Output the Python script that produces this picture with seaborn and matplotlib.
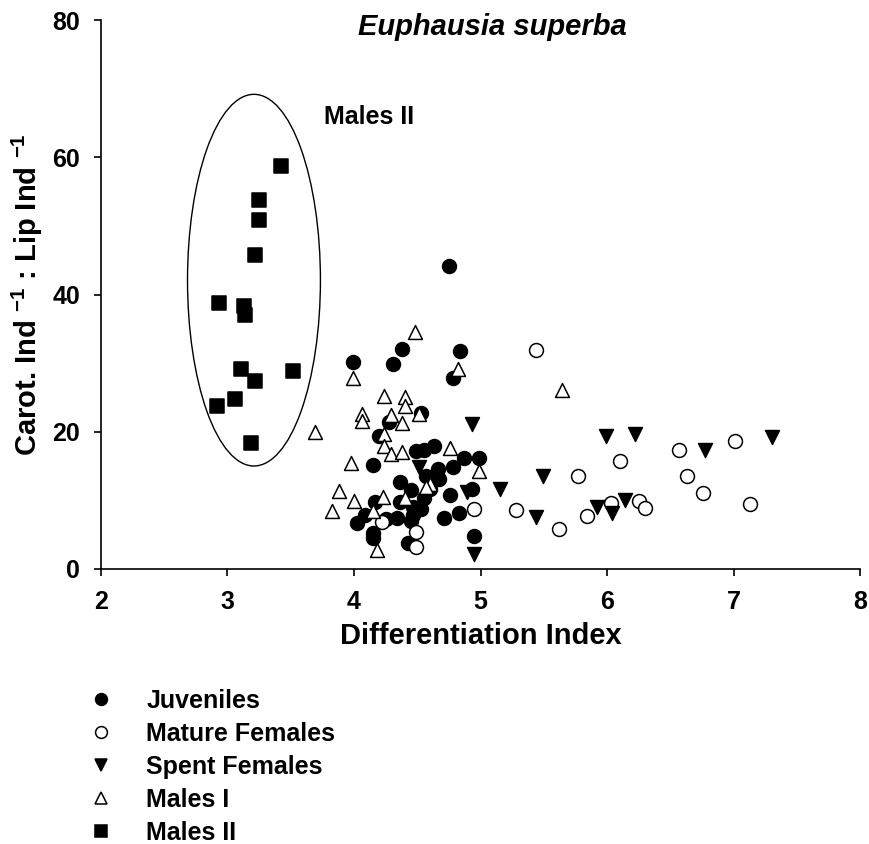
import pandas as pd
import matplotlib
matplotlib.use('Agg')
import matplotlib.pyplot as plt
import seaborn as sns
from matplotlib.patches import Ellipse
from matplotlib.lines import Line2D

# Data

juv_x = [4.75, 4.38, 4.31, 3.99, 4.84, 4.78, 4.53, 4.28, 4.20, 4.49, 4.55, 4.63, 4.15, 4.87,
         4.99, 4.78, 4.66, 4.57, 4.67, 4.36, 4.45, 4.60, 4.93, 4.76, 4.55, 4.36, 4.17, 4.47,
         4.53, 4.47, 4.83, 4.71, 4.34, 4.09, 4.02, 4.25, 4.45, 4.15, 4.15, 4.43, 4.95]
juv_y = [44.2, 32.0, 29.9, 30.1, 31.7, 27.8, 22.8, 21.4, 19.4, 17.2, 17.4, 17.9, 15.2, 16.1,
         16.2, 14.9, 14.6, 13.6, 13.1, 12.7, 11.5, 11.6, 11.6, 10.7, 10.4, 9.7, 9.8, 9.0,
         8.8, 7.8, 8.2, 7.4, 7.4, 7.8, 6.7, 7.3, 7.0, 5.3, 4.5, 3.8, 4.8]

mat_x = [5.44, 4.95, 5.28, 4.22, 4.49, 4.49, 6.10, 5.77, 6.57, 7.01, 6.63, 6.76, 7.13,
         5.62, 5.84, 6.03, 6.25, 6.30]
mat_y = [31.9, 8.8, 8.6, 6.8, 5.4, 3.2, 15.8, 13.6, 17.3, 18.7, 13.6, 11.0, 9.5,
         5.8, 7.7, 9.6, 9.9, 8.9]

spent_x = [4.93, 4.51, 4.89, 5.15, 5.49, 5.44, 4.95, 5.99, 6.22, 7.30, 6.77, 5.92, 6.04, 6.14]
spent_y = [21.1, 14.8, 11.2, 11.6, 13.5, 7.5, 2.2, 19.4, 19.7, 19.3, 17.3, 9.0, 8.2, 10.0]

m1_x = [4.48, 3.99, 4.82, 4.24, 4.40, 4.40, 4.06, 4.06, 4.29, 4.51, 4.38, 3.69, 4.24, 4.24,
        4.29, 4.38, 4.76, 3.98, 4.99, 4.60, 4.57, 3.88, 4.00, 4.23, 4.40, 3.83, 4.15, 4.18, 5.64]
m1_y = [34.6, 27.9, 29.2, 25.2, 25.1, 23.8, 22.6, 21.6, 22.5, 22.6, 21.2, 20.0, 19.6, 17.9,
        16.7, 17.0, 17.6, 15.4, 14.2, 12.4, 11.9, 11.4, 9.9, 10.5, 10.3, 8.5, 8.5, 2.8, 26.1]

m2_x = [3.42, 3.25, 3.25, 3.22, 2.93, 3.13, 3.14, 3.11, 3.52, 3.22, 3.06, 2.92, 3.19]
m2_y = [58.8, 53.8, 50.9, 45.7, 38.7, 38.4, 37.0, 29.1, 28.8, 27.4, 24.7, 23.8, 18.3]

groups = ['Juveniles', 'Mature Females', 'Spent Females', 'Males I', 'Males II']

df = pd.concat([
    pd.DataFrame({'x': juv_x, 'y': juv_y, 'group': 'Juveniles'}),
    pd.DataFrame({'x': mat_x, 'y': mat_y, 'group': 'Mature Females'}),
    pd.DataFrame({'x': spent_x, 'y': spent_y, 'group': 'Spent Females'}),
    pd.DataFrame({'x': m1_x, 'y': m1_y, 'group': 'Males I'}),
    pd.DataFrame({'x': m2_x, 'y': m2_y, 'group': 'Males II'}),
])

# marker, face colour for each group
styles = {
    'Juveniles': ('o', 'black'),
    'Mature Females': ('o', 'white'),
    'Spent Females': ('v', 'black'),
    'Males I': ('^', 'white'),
    'Males II': ('s', 'black'),
}

#############################################

sns.set_style('ticks')
plt.rcParams['font.family'] = ['Liberation Sans', 'DejaVu Sans']
plt.rcParams['font.weight'] = 'bold'
plt.rcParams['text.color'] = 'black'
plt.rcParams['axes.labelcolor'] = 'black'
plt.rcParams['xtick.color'] = 'black'
plt.rcParams['ytick.color'] = 'black'
plt.rcParams['mathtext.fontset'] = 'custom'
plt.rcParams['mathtext.rm'] = 'Liberation Sans:bold'
plt.rcParams['mathtext.bf'] = 'Liberation Sans:bold'

fig = plt.figure(figsize=(8.69, 8.44), dpi=100)
ax = fig.add_axes([0.116, 0.326, 0.874, 0.650])

for g in groups:
    m, fc = styles[g]
    sub = df[df['group'] == g]
    sns.scatterplot(data=sub, x='x', y='y', marker=m, color=fc, edgecolor='black',
                    linewidth=1.1, s=100, ax=ax, legend=False, zorder=3)

# ellipse around Males II
ax.add_patch(Ellipse((3.21, 42.1), 1.05, 54.2, fill=False, edgecolor='black', lw=1))
ax.text(3.76, 65.9, 'Males II', fontsize=18, fontweight='bold', va='center', ha='left')
ax.text(5.09, 79.0, 'Euphausia superba', fontsize=21, fontweight='bold', style='italic',
        ha='center', va='center')

ax.set_xlim(2, 8)
ax.set_ylim(0, 80)
ax.set_xticks([2, 3, 4, 5, 6, 7, 8])
ax.set_yticks([0, 20, 40, 60, 80])
ax.tick_params(axis='both', labelsize=18, length=5, width=1.2, direction='out', color='black',
               labelcolor='black')
ax.tick_params(axis='y', pad=10)
ax.tick_params(axis='x', pad=10)
for lab in ax.get_xticklabels() + ax.get_yticklabels():
    lab.set_fontweight('bold')

ax.set_xlabel('Differentiation Index', fontsize=21, fontweight='bold', labelpad=6, color='black')
ax.set_ylabel(r'Carot. Ind $^{-1}$ : Lip Ind $^{-1}$', fontsize=21, fontweight='bold',
              labelpad=5, color='black')

sns.despine(ax=ax)
for sp in ['left', 'bottom']:
    ax.spines[sp].set_linewidth(1.2)
    ax.spines[sp].set_color('black')

# legend below the plot
handles = []
for g in groups:
    m, fc = styles[g]
    handles.append(Line2D([], [], linestyle='', marker=m, markerfacecolor=fc,
                          markeredgecolor='black', markeredgewidth=1.1, markersize=8.5, label=g))
fig.legend(handles=handles, loc='upper left', bbox_to_anchor=(0.088, 0.199), frameon=False,
           borderpad=0, handlelength=1.0, handletextpad=1.3, labelspacing=0.36,
           prop={'weight': 'bold', 'size': 18}, labelcolor='black')

plt.savefig('out.png', dpi=100)
